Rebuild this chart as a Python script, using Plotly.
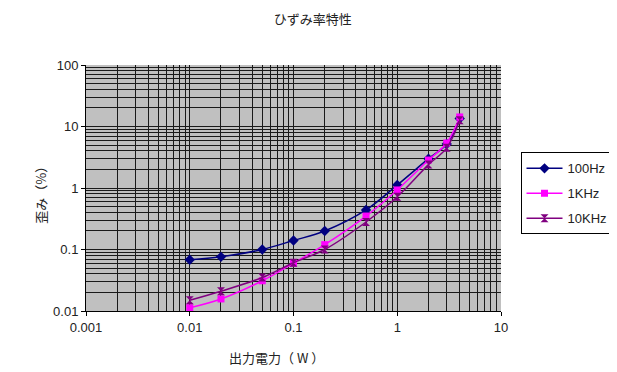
import plotly.graph_objects as go

power_w = [0.01, 0.02, 0.05, 0.1, 0.2, 0.5, 1, 2, 3, 4]
dist_100hz = [0.068, 0.076, 0.1, 0.14, 0.2, 0.44, 1.12, 3.0, 5.2, 13.5]
dist_1khz = [0.0113, 0.0157, 0.031, 0.06, 0.12, 0.35, 0.93, 2.85, 5.4, 14.3]
dist_10khz = [0.015, 0.021, 0.035, 0.061, 0.1, 0.28, 0.72, 2.4, 4.5, 12.6]

font_main = "Liberation Sans, Noto Sans CJK JP, sans-serif"
font_jp = "Noto Sans CJK JP, sans-serif"
txt_color = "#222222"

fig = go.Figure()
fig.add_trace(go.Scatter(x=power_w, y=dist_100hz, name="100Hz", mode="lines+markers",
                         legendgroup="a",
                         line=dict(color="#000080", width=1.5, shape="spline"),
                         marker=dict(symbol="diamond", size=8, color="#000080")))
fig.add_trace(go.Scatter(x=power_w, y=dist_1khz, name="1KHz", mode="lines+markers",
                         legendgroup="b",
                         line=dict(color="#FF00FF", width=1.5, shape="spline"),
                         marker=dict(symbol="square", size=7, color="#FF00FF")))
fig.add_trace(go.Scatter(x=power_w, y=dist_10khz, name="10KHz", mode="lines+markers",
                         legendgroup="c",
                         line=dict(color="#800080", width=1.5, shape="spline"),
                         marker=dict(symbol="hourglass", size=8, color="#800080")))

axis_common = dict(type="log", dtick=1, showline=True, linecolor="black", linewidth=1,
                   mirror=False, ticks="outside", ticklen=4, tickcolor="black",
                   showgrid=True, gridcolor="#1a1a1a", gridwidth=1, zeroline=False,
                   tickfont=dict(family=font_main, size=13, color=txt_color),
                   minor=dict(dtick="D1", showgrid=True, gridcolor="#1a1a1a", gridwidth=1))

fig.update_layout(
    width=617, height=372,
    margin=dict(l=78, r=118, t=57, b=69),
    paper_bgcolor="white", plot_bgcolor="#c0c0c0",
    title=dict(text="ひずみ率特性", x=0.494, xanchor="center", y=0.968, yanchor="middle",
               font=dict(family=font_jp, size=13, color=txt_color)),
    xaxis=dict(range=[-3, 1], **axis_common),
    yaxis=dict(range=[-2, 2], **axis_common),
    annotations=[
        dict(text="出力電力（ W ）", xref="paper", yref="paper", x=0.458, y=-0.187,
             xanchor="center", yanchor="middle", showarrow=False,
             font=dict(family=font_jp, size=13, color=txt_color)),
        dict(text="歪み（%）", xref="paper", yref="paper", x=-0.109, y=0.484,
             xanchor="center", yanchor="middle", showarrow=False, textangle=-90,
             font=dict(family=font_jp, size=13, color=txt_color)),
    ],
    legend=dict(x=1.047, xanchor="left", y=0.478, yanchor="middle",
                bgcolor="white", bordercolor="black", borderwidth=1,
                font=dict(family=font_main, size=13, color=txt_color),
                tracegroupgap=5, itemwidth=36),
    showlegend=True,
)

fig.write_html("out.html")
